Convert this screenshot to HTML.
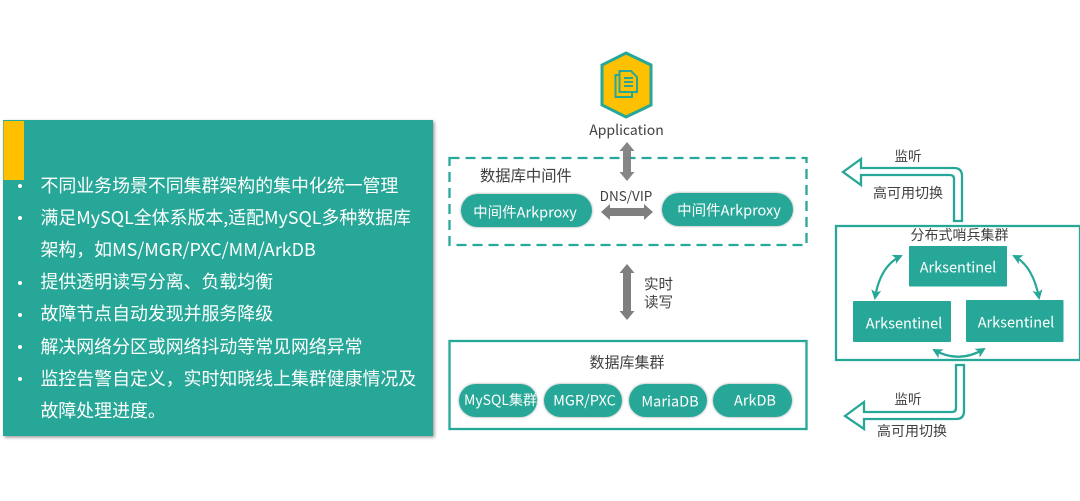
<!DOCTYPE html>
<html lang="zh">
<head>
<meta charset="utf-8">
<style>
html,body{margin:0;padding:0;background:#fff;width:1080px;height:501px;overflow:hidden}
svg{display:block}
text{font-family:"Noto Sans CJK SC","Liberation Sans",sans-serif;dominant-baseline:central}
.d{fill:#404040}
.w{fill:#fff}
.p{fill:#fff;font-size:17.9px}
</style>
</head>
<body>
<svg width="1080" height="501" viewBox="0 0 1080 501" xmlns="http://www.w3.org/2000/svg">
<defs>
<filter id="s" x="-10%" y="-10%" width="120%" height="120%"><feDropShadow dx="1.5" dy="1.5" stdDeviation="1.5" flood-color="#000" flood-opacity=".4"/></filter>
<filter id="s2" x="-10%" y="-15%" width="120%" height="130%"><feDropShadow dx="0" dy="0" stdDeviation="1.3" flood-color="#000" flood-opacity=".4"/></filter>
<marker id="a" viewBox="0 0 10 10" refX="8" refY="5" markerWidth="4.600" markerHeight="4.600" orient="auto-start-reverse"><path d="M0 0L10 5L0 10L2.500 5Z" fill="#26a797"/></marker>
</defs>

<!-- left panel -->
<rect x="3" y="120" width="430" height="316" fill="#26a797" filter="url(#s)"/>
<rect x="3.500" y="121" width="20.500" height="59" fill="#ffc000"/>
<g fill="#fff">
<circle cx="20" cy="186" r="2"/><circle cx="20" cy="218" r="2"/><circle cx="20" cy="283" r="2"/><circle cx="20" cy="315" r="2"/><circle cx="20" cy="347" r="2"/><circle cx="20" cy="379" r="2"/>
</g>
<text class="p" x="40.500" y="185">不同业务场景不同集群架构的集中化统一管理</text>
<text class="p" x="40.500" y="217">满足MySQL全体系版本,适配MySQL多种数据库</text>
<text class="p" x="40.500" y="249">架构，如MS/MGR/PXC/MM/ArkDB</text>
<text class="p" x="40.500" y="281">提供透明读写分离、负载均衡</text>
<text class="p" x="40.500" y="313">故障节点自动发现并服务降级</text>
<text class="p" x="40.500" y="346">解决网络分区或网络抖动等常见网络异常</text>
<text class="p" x="40.500" y="378">监控告警自定义，实时知晓线上集群健康情况及</text>
<text class="p" x="40.500" y="410">故障处理进度。</text>

<!-- application icon -->
<path d="M626 53L651 65V105L626 117L602 105V65Z" fill="#ffc000" stroke="#26a797" stroke-width="3"/>
<g fill="none" stroke="#26a797" stroke-width="2">
<path d="M619 75H615.500V97H632V92"/>
<path d="M619.500 71H631L637 77V92H619.500Z"/>
<path d="M624 78H633M624 82H633M624 86H633"/>
</g>
<text class="d" x="626.500" y="130" font-size="14" text-anchor="middle">Application</text>

<!-- middleware -->
<rect x="449.500" y="158" width="357" height="87" fill="none" stroke="#26a797" stroke-width="2.300" stroke-dasharray="10 6"/>
<path d="M627 142L634.500 151H631V172H634.500L627 181L619.500 172H623V151H619.500Z" fill="#7f7f7f" fill-opacity=".95"/>
<text class="d" x="480" y="175" font-size="15.300">数据库中间件</text>
<text class="d" x="626" y="195" font-size="13.500" text-anchor="middle">DNS/VIP</text>
<path d="M601 212L610 204V208H644V204L653 212L644 220V216H610V220Z" fill="#7f7f7f"/>
<rect x="461" y="194" width="131" height="33" rx="16.500" fill="#26a797" filter="url(#s2)"/>
<rect x="662" y="193" width="131" height="33" rx="16.500" fill="#26a797" filter="url(#s2)"/>
<text class="w" x="525" y="212" font-size="14.500" text-anchor="middle">中间件Arkproxy</text>
<text class="w" x="729" y="210" font-size="14.500" text-anchor="middle">中间件Arkproxy</text>

<!-- read/write arrow -->
<path d="M627 264L634.500 273H631V311H634.500L627 320L619.500 311H623V273H619.500Z" fill="#7f7f7f"/>
<text class="d" x="644" y="284" font-size="14.500">实时</text>
<text class="d" x="644" y="302" font-size="14.500">读写</text>

<!-- DB cluster -->
<rect x="449.500" y="341" width="357" height="88" fill="none" stroke="#26a797" stroke-width="2.300"/>
<text class="d" x="627" y="362" font-size="15" text-anchor="middle">数据库集群</text>
<g filter="url(#s2)" fill="#26a797">
<rect x="459" y="384" width="78" height="33" rx="16.500"/>
<rect x="544" y="384" width="78" height="33" rx="16.500"/>
<rect x="629" y="384" width="78" height="33" rx="16.500"/>
<rect x="713" y="384" width="79" height="33" rx="16.500"/>
</g>
<text class="w" x="500.500" y="400" font-size="14" text-anchor="middle">MySQL集群</text>
<text class="w" x="584.500" y="400" font-size="14.500" text-anchor="middle">MGR/PXC</text>
<text class="w" x="670" y="401" font-size="14.500" text-anchor="middle">MariaDB</text>
<text class="w" x="755" y="400" font-size="14.500" text-anchor="middle">ArkDB</text>

<!-- top L arrow -->
<path d="M843 172L861 159V168H954Q962 168 962 176V221H954V179Q954 175 950 175H861V185Z" fill="#fff" stroke="#26a797" stroke-width="2.300"/>
<text class="d" x="908" y="155" font-size="13.500" text-anchor="middle">监听</text>
<text class="d" x="908" y="193" font-size="14" text-anchor="middle">高可用切换</text>

<!-- sentinel cluster -->
<rect x="836" y="226" width="244" height="134" fill="none" stroke="#26a797" stroke-width="2.300"/>
<text class="d" x="959.500" y="235" font-size="14" text-anchor="middle">分布式哨兵集群</text>
<g fill="#26a797">
<rect x="909" y="246" width="98" height="40.500" rx="1"/>
<rect x="853" y="301" width="98" height="41" rx="1"/>
<rect x="966" y="300" width="97.500" height="42" rx="1"/>
</g>
<text class="w" x="958" y="267" font-size="14.500" text-anchor="middle">Arksentinel</text>
<text class="w" x="904" y="323" font-size="14.500" text-anchor="middle">Arksentinel</text>
<text class="w" x="1016" y="322" font-size="14.500" text-anchor="middle">Arksentinel</text>
<g fill="none" stroke="#26a797" stroke-width="2.200">
<path d="M901 256Q880 266 875 298" marker-start="url(#a)" marker-end="url(#a)"/>
<path d="M1014 256Q1033 266 1039 298" marker-start="url(#a)" marker-end="url(#a)"/>
<path d="M934 350Q959 364 984 349" marker-start="url(#a)" marker-end="url(#a)"/>
</g>

<!-- bottom L arrow -->
<path d="M845 416L864 402V412H952Q956 412 956 408V365H964V411Q964 419 956 419H864V429Z" fill="#fff" stroke="#26a797" stroke-width="2.300"/>
<text class="d" x="908" y="398" font-size="13.500" text-anchor="middle">监听</text>
<text class="d" x="912" y="431" font-size="14" text-anchor="middle">高可用切换</text>
</svg>
</body>
</html>
